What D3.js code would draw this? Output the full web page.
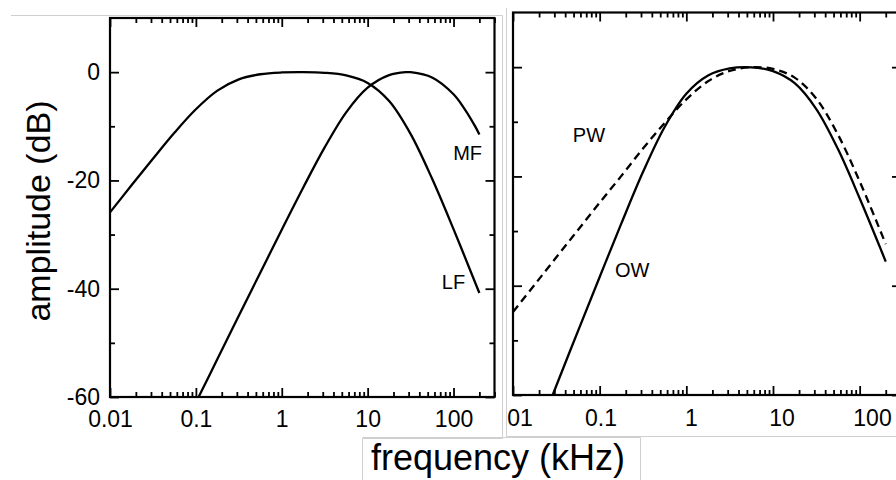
<!DOCTYPE html>
<html>
<head>
<meta charset="utf-8">
<script src="https://cdn.jsdelivr.net/npm/d3@7"></script>
<style>
  body { margin: 0; background: #fff; }
  text { font-family: "Liberation Sans", Arial, sans-serif; fill: #000; }
</style>
</head>
<body>
<div id="wrapper"></div>
<script>
// DATA  (frequency in kHz, amplitude in dB)
const freqGrid = [0.01, 0.0178, 0.0316, 0.0562, 0.1, 0.178, 0.316, 0.562, 1, 1.78, 3.16, 5.62, 10, 17.8, 31.6, 56.2, 100, 178, 200]
const lfDb = [-25.9, -20.9, -16.0, -11.2, -6.86, -3.42, -1.33, -0.39, -0.06, 0.0, -0.12, -0.6, -1.99, -5.33, -11.4, -19.65, -29.0, -38.8, -40.8]
const pwDb = [-44.8, -39.8, -34.8, -29.8, -24.8, -19.9, -14.9, -10.2, -5.9, -2.59, -0.69, -0.02, -0.32, -1.92, -5.76, -12.35, -20.9, -30.4, -32.4]

const mfFreq = [0.1076, 0.178, 0.316, 0.562, 1, 1.78, 3.16, 5.62, 10, 17.8, 28.2, 31.6, 56.2, 100, 133, 178, 200]
const mfDb = [-60, -53.0, -45.0, -37.05, -29.1, -21.3, -13.9, -7.42, -2.86, -0.54, 0.0, -0.01, -0.98, -4.08, -6.68, -9.97, -11.5]

const owFreq = [0.0287, 0.0316, 0.0562, 0.1, 0.178, 0.316, 0.562, 1, 1.78, 3.16, 5.62, 10, 17.8, 31.6, 56.2, 100, 178, 200]
const owDb = [-60, -58.3, -48.3, -38.4, -28.6, -19.2, -10.95, -4.87, -1.54, -0.23, -0.03, -0.73, -2.94, -7.67, -15.0, -24.0, -33.6, -35.6]

const xTickValues = [0.01, 0.1, 1, 10, 100]
const xTickLabels = ['0.01', '0.1', '1', '10', '100']
const yTickValues = [-60, -40, -20, 0]
const yTickLabels = ['-60', '-40', '-20', '0']
const yMinorValues = [-50, -30, -10]

const xDomain = [0.01, 300]
const yDomain = [-60, 10]

// WRAPPER
const dimensions = { width: 896, height: 480 }

const wrapper = d3.select('#wrapper')
  .append('svg')
  .attr('width', dimensions.width)
  .attr('height', dimensions.height)

// light borders of the pasted-together figure
const borders = wrapper.append('g')
  .attr('stroke', '#cfcfcf')
  .attr('stroke-width', 1)
  .attr('fill', 'none')
borders.append('path').attr('d', 'M11,15.5H502.5V438.5H362.5V480')
borders.append('path').attr('d', 'M506.5,8V436.5H896')
borders.append('path').attr('d', 'M362.5,437.5H640.5V480')

function drawPanel(p) {
  const g = wrapper.append('g')
  if (p.clipLeft) {
    wrapper.append('clipPath').attr('id', 'clip-right')
      .append('rect')
      .attr('x', p.clipLeft).attr('y', 0)
      .attr('width', dimensions.width - p.clipLeft).attr('height', dimensions.height)
    g.attr('clip-path', 'url(#clip-right)')
  }

  const xScale = d3.scaleLog().domain(xDomain).range([p.left, p.right])
  const yScale = d3.scaleLinear().domain(yDomain).range([p.bottom, p.top])
  const labelScale = p.labelRange ? d3.scaleLog().domain([0.01, 100]).range(p.labelRange) : xScale

  const minorX = xScale.ticks().filter(v => !xTickValues.some(t => Math.abs(t - v) / t < 1e-6))

  const axes = [
    [d3.axisBottom(xScale).tickValues(xTickValues), p.bottom, 'x', 9],
    [d3.axisBottom(xScale).tickValues(minorX), p.bottom, 'x', 5],
    [d3.axisTop(xScale).tickValues(xTickValues), p.top, 'x', 9],
    [d3.axisTop(xScale).tickValues(minorX), p.top, 'x', 5],
    [d3.axisLeft(yScale).tickValues(yTickValues), p.left, 'y', 9],
    [d3.axisLeft(yScale).tickValues(yMinorValues), p.left, 'y', 5],
    [d3.axisRight(yScale).tickValues(yTickValues), p.right, 'y', 9],
    [d3.axisRight(yScale).tickValues(yMinorValues), p.right, 'y', 5]
  ]
  axes.forEach(([gen, pos, dir, len]) => {
    const a = g.append('g')
      .attr('transform', dir === 'x' ? `translate(0,${pos})` : `translate(${pos},0)`)
      .call(gen.tickSize(-len).tickFormat(''))
    a.select('.domain').remove()
    a.selectAll('line').attr('stroke', '#000').attr('stroke-width', 1.8)
  })

  // tick labels
  const xl = g.append('g')
    .attr('transform', `translate(0,${p.bottom})`)
    .call(d3.axisBottom(labelScale).tickValues(xTickValues).tickSize(0)
      .tickPadding(p.xLabelPad).tickFormat((d, i) => xTickLabels[i]))
  xl.select('.domain').remove()
  xl.selectAll('text').style('font-size', '23px').attr('fill', '#000')

  if (p.yLabels) {
    const yl = g.append('g')
      .attr('transform', `translate(${p.left},0)`)
      .call(d3.axisLeft(yScale).tickValues(yTickValues).tickSize(0)
        .tickPadding(10).tickFormat((d, i) => yTickLabels[i]))
    yl.select('.domain').remove()
    yl.selectAll('text').style('font-size', '23px').attr('fill', '#000')
  }

  // frame
  g.append('rect')
    .attr('x', p.left).attr('y', p.top)
    .attr('width', p.right - p.left).attr('height', p.bottom - p.top)
    .attr('fill', 'none').attr('stroke', '#000').attr('stroke-width', 2.2)

  const lineGenerator = d3.line()
    .x(d => xScale(d[0]))
    .y(d => yScale(d[1]))
    .curve(d3.curveCatmullRom.alpha(0.5))

  p.series.forEach(s => {
    g.append('path')
      .attr('d', lineGenerator(d3.zip(s.freq, s.db)))
      .attr('fill', 'none')
      .attr('stroke', '#000')
      .attr('stroke-width', 2.3)
      .attr('stroke-dasharray', s.dashed ? '8,5' : null)
    g.append('text')
      .attr('x', xScale(s.label[1]))
      .attr('y', yScale(s.label[2]))
      .style('font-size', '20px')
      .text(s.label[0])
  })
}

drawPanel({
  left: 110, right: 494.5, top: 18, bottom: 397,
  xLabelPad: 14, yLabels: true,
  series: [
    { freq: freqGrid, db: lfDb, label: ['LF', 73, -40] },
    { freq: mfFreq, db: mfDb, label: ['MF', 99, -16.3] }
  ]
})

drawPanel({
  left: 513, right: 901, top: 12.5, bottom: 395,
  xLabelPad: 15, clipLeft: 506, labelRange: [510, 872],
  series: [
    { freq: freqGrid, db: pwDb, dashed: true, label: ['PW', 0.049, -13.7] },
    { freq: owFreq, db: owDb, label: ['OW', 0.15, -38.4] }
  ]
})

// axis titles
wrapper.append('text')
  .attr('transform', 'translate(50,211) rotate(-90)')
  .attr('text-anchor', 'middle')
  .style('font-size', '34px')
  .text('amplitude (dB)')

wrapper.append('text')
  .attr('x', 498)
  .attr('y', 470)
  .attr('text-anchor', 'middle')
  .style('font-size', '36px')
  .text('frequency (kHz)')
</script>
</body>
</html>
